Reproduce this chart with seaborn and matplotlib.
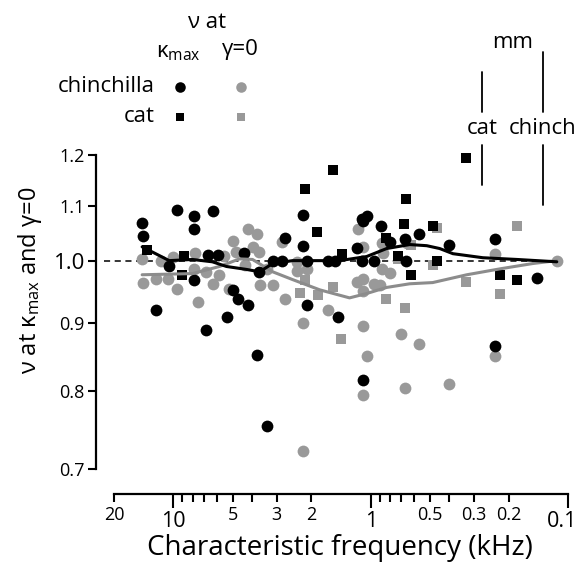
import numpy as np
import pandas as pd
import matplotlib
matplotlib.use("Agg")
import matplotlib.pyplot as plt
import matplotlib.transforms as mtransforms
import seaborn as sns
from matplotlib.ticker import FixedLocator, FixedFormatter, NullLocator

# ---------------- data ----------------
# chinchilla, nu at kappa_max (black circles)
chin_kmax_cf = [14.4, 14.2, 12.3, 9.54, 7.82, 7.82, 6.27, 10.5, 7.82, 6.64, 5.91, 4.96, 4.73, 4.21,
                3.70, 3.11, 2.80, 2.73, 2.21, 2.21, 2.11, 2.11, 6.80, 5.38, 3.75, 3.37, 1.47, 1.09,
                0.235, 1.65, 1.52, 1.18, 1.11, 1.05, 1.10, 1.11, 0.966, 0.890, 0.801, 0.672, 0.664,
                0.571, 0.402, 0.235, 0.144, 4.40]
chin_kmax_v = [1.068, 1.045, 0.919, 1.092, 1.081, 1.056, 1.090, 0.992, 0.969, 1.011, 1.011, 0.952, 0.938, 0.927,
               0.982, 1.001, 1.001, 1.041, 1.083, 1.027, 1.001, 0.928, 0.889, 0.908, 0.852, 0.754, 0.908, 0.816,
               0.864, 1.001, 1.001, 1.023, 1.076, 1.081, 1.072, 1.001, 1.001, 1.063, 1.034, 1.039, 1.001,
               1.048, 1.029, 1.039, 0.972, 1.015]

# cat, nu at kappa_max (black squares)
cat_kmax_cf = [13.6, 8.79, 9.0, 2.16, 1.88, 1.56, 1.40, 0.664, 0.680, 0.839, 0.730, 0.485, 0.462,
               0.627, 0.330, 0.221, 0.181]
cat_kmax_v = [1.020, 1.009, 0.977, 1.131, 1.052, 1.170, 1.013, 1.113, 1.066, 1.041, 1.009, 1.063, 1.001,
              0.977, 1.194, 0.977, 0.969]

# chinchilla, nu at gamma=0 (gray circles)
chin_g0_cf = [14.4, 14.2, 12.3, 11.5, 10.1, 9.54, 10.7, 7.73, 7.82, 7.47, 6.27, 6.80, 5.84, 5.20, 5.51,
              4.96, 4.79, 4.21, 3.79, 3.97, 3.70, 4.36, 3.62, 3.14, 2.80, 2.73, 2.37, 2.37, 2.11, 3.37,
              2.21, 1.65, 2.21, 1.16, 1.10, 0.880, 0.869, 0.880, 0.801, 1.18, 1.10, 0.966, 0.900, 1.09,
              0.657, 0.235, 0.114, 1.09, 1.05, 0.705, 0.571, 0.672, 0.402, 0.235, 1.09]
chin_g0_v = [1.003, 0.964, 0.970, 1.001, 1.008, 0.954, 0.970, 1.015, 0.987, 0.933, 0.962, 0.982, 0.977, 0.954, 1.009,
             1.036, 1.016, 1.056, 1.048, 1.025, 1.016, 0.994, 0.960, 0.960, 1.034, 0.938, 0.999, 0.984, 0.987, 0.986,
             0.900, 0.920, 0.722, 1.056, 1.025, 1.032, 1.015, 0.987, 0.980, 0.965, 0.970, 0.962, 0.960, 0.950,
             1.032, 1.013, 1.001, 0.894, 0.850, 0.882, 0.868, 0.805, 0.810, 0.850, 0.795]

# cat, nu at gamma=0 (gray squares)
cat_g0_cf = [2.16, 1.86, 1.56, 2.27, 0.839, 0.672, 0.627, 0.485, 0.462, 0.730, 0.330, 0.221, 0.181, 1.42]
cat_g0_v = [0.969, 0.944, 0.956, 0.947, 0.938, 0.923, 1.029, 0.994, 1.058, 1.003, 0.965, 0.946, 1.063, 0.875]

# smoothed trends
trend_kmax_cf = [14.4, 12.3, 10.5, 8.0, 6.35, 5.38, 4.26, 3.66, 3.14, 2.49, 1.81, 1.44, 1.05, 0.830,
                 0.634, 0.520, 0.447, 0.383, 0.270, 0.181, 0.114]
trend_kmax_v = [1.025, 1.013, 1.001, 1.003, 0.999, 0.991, 0.986, 0.982, 0.996, 1.001, 1.001, 1.001, 1.008, 1.022,
                1.029, 1.027, 1.022, 1.013, 1.006, 1.003, 0.999]
trend_g0_cf = [14.4, 8.0, 5.84, 4.62, 3.97, 3.14, 2.49, 1.81, 1.28, 1.05, 0.830, 0.634, 0.485, 0.326,
               0.221, 0.151, 0.114]
trend_g0_v = [0.977, 0.979, 0.991, 1.004, 1.003, 0.982, 0.969, 0.952, 0.939, 0.946, 0.956, 0.962, 0.964, 0.977,
              0.987, 0.996, 1.001]

# place-map markers (kHz at the "mm" reference)
mm_cat_cf = 0.273
mm_chin_cf = 0.134

x_major = [10, 1, 0.1]
x_major_labels = ["10", "1", "0.1"]
x_minor = [20, 9, 8, 7, 6, 5, 4, 3, 2, 0.9, 0.8, 0.7, 0.6, 0.5, 0.4, 0.3, 0.2]
x_minor_labels = ["20", "", "", "", "", "5", "", "3", "2", "", "", "", "", "0.5", "", "0.3", "0.2"]
y_ticks = [0.7, 0.8, 0.9, 1.0, 1.1, 1.2]
y_tick_labels = ["0.7", "0.8", "0.9", "1.0", "1.1", "1.2"]

BLACK = "#000000"
GRAY = "#999999"

# ---------------- figure ----------------
sns.set_theme(style="ticks")
plt.rcParams['font.family'] = ['Open Sans', 'DejaVu Sans']
plt.rcParams['mathtext.fontset'] = 'custom'
plt.rcParams['mathtext.rm'] = 'Open Sans'
plt.rcParams['mathtext.it'] = 'Open Sans'
plt.rcParams['text.color'] = BLACK
plt.rcParams['axes.labelcolor'] = BLACK
plt.rcParams['xtick.color'] = BLACK
plt.rcParams['ytick.color'] = BLACK
plt.rcParams['axes.edgecolor'] = BLACK

W, H = 581, 565
fig = plt.figure(figsize=(W / 100, H / 100), dpi=100)
ax = fig.add_axes([114 / W, 1 - 469 / H, 454 / W, 314 / H])

ax.set_xscale("log")
ax.set_yscale("log")

# reference line
ax.hlines(1.0, 22.4, 0.114, colors=BLACK, linestyles=(0, (4, 3)), linewidth=1.1, clip_on=False, zorder=1)

circ_s = 72
sq_s = 42
sns.scatterplot(x=chin_g0_cf, y=chin_g0_v, color=GRAY, marker="o", s=circ_s, linewidth=0, ax=ax,
                clip_on=False, zorder=2)
sns.scatterplot(x=cat_g0_cf, y=cat_g0_v, color=GRAY, marker="s", s=sq_s, linewidth=0, ax=ax,
                clip_on=False, zorder=2)
sns.scatterplot(x=chin_kmax_cf, y=chin_kmax_v, color=BLACK, marker="o", s=circ_s, linewidth=0, ax=ax,
                clip_on=False, zorder=3)
sns.scatterplot(x=cat_kmax_cf, y=cat_kmax_v, color=BLACK, marker="s", s=sq_s, linewidth=0, ax=ax,
                clip_on=False, zorder=3)

sns.lineplot(x=trend_g0_cf, y=trend_g0_v, color="#8c8c8c", linewidth=2.2, ax=ax, sort=False,
             estimator=None, zorder=4)
sns.lineplot(x=trend_kmax_cf, y=trend_kmax_v, color=BLACK, linewidth=2.2, ax=ax, sort=False,
             estimator=None, zorder=5)

ax.set_xlim(20, 0.1)
ax.set_ylim(0.7, 1.2)

# axes styling
for s in ["top", "right"]:
    ax.spines[s].set_visible(False)
ax.spines["left"].set_position(("outward", 13))
ax.spines["bottom"].set_position(("outward", 18))
for s in ["left", "bottom"]:
    ax.spines[s].set_linewidth(1.6)
    ax.spines[s].set_color(BLACK)

ax.xaxis.set_major_locator(FixedLocator(x_major))
ax.xaxis.set_major_formatter(FixedFormatter(x_major_labels))
ax.xaxis.set_minor_locator(FixedLocator(x_minor))
ax.xaxis.set_minor_formatter(FixedFormatter(x_minor_labels))
ax.tick_params(axis="x", which="major", length=10, width=1.5, labelsize=15.5, pad=2,
               color=BLACK, labelcolor=BLACK)
ax.tick_params(axis="x", which="minor", length=6, width=1.5, labelsize=13, pad=3,
               color=BLACK, labelcolor=BLACK)

ax.yaxis.set_major_locator(FixedLocator(y_ticks))
ax.yaxis.set_major_formatter(FixedFormatter(y_tick_labels))
ax.yaxis.set_minor_locator(NullLocator())
ax.tick_params(axis="y", which="major", length=6, width=1.5, labelsize=13, pad=2,
               color=BLACK, labelcolor=BLACK)

ax.set_xlabel("")
ax.set_ylabel("")

fig.canvas.draw()
for lab in ax.get_yticklabels():
    if lab.get_text() == "1.0":
        lab.set_fontsize(16)
for lab in ax.get_xticklabels():
    if lab.get_text() == "0.1":
        lab.set_transform(lab.get_transform() + mtransforms.ScaledTranslation(-6 / 100, 0, fig.dpi_scale_trans))

fig.text(30 / W, 1 - 280 / H, r"ν at κ$_{\mathrm{max}}$ and γ=0", rotation=90, ha="center", va="center",
         fontsize=17, color=BLACK)
fig.text(340 / W, 1 - 548 / H, "Characteristic frequency (kHz)", ha="center", va="center",
         fontsize=20, color=BLACK)

# legend (custom)
def fx(px):
    return px / W

def fy(py):
    return 1 - py / H

LEG_FS = 16
fig.text(fx(207), fy(22), "ν at", ha="center", va="center", fontsize=LEG_FS, color=BLACK)
fig.text(fx(178), fy(53), r"κ$_{\mathrm{max}}$", ha="center", va="center", fontsize=LEG_FS, color=BLACK)
fig.text(fx(240), fy(50), "γ=0", ha="center", va="center", fontsize=LEG_FS, color=BLACK)
fig.text(fx(155), fy(86), "chinchilla", ha="right", va="center", fontsize=LEG_FS, color=BLACK)
fig.text(fx(155), fy(116), "cat", ha="right", va="center", fontsize=LEG_FS, color=BLACK)
leg_ax = fig.add_axes([0, 0, 1, 1], facecolor="none")
leg_ax.set_xlim(0, W)
leg_ax.set_ylim(H, 0)
leg_ax.axis("off")
leg_ax.scatter([180], [87], s=circ_s * 0.8, color=BLACK, marker="o", linewidth=0)
leg_ax.scatter([241], [87], s=circ_s * 0.8, color=GRAY, marker="o", linewidth=0)
leg_ax.scatter([180], [117], s=sq_s * 0.85, color=BLACK, marker="s", linewidth=0)
leg_ax.scatter([241], [117], s=sq_s * 0.85, color=GRAY, marker="s", linewidth=0)

# mm annotation (data x, figure-pixel y)
trans = mtransforms.blended_transform_factory(ax.transData, leg_ax.transData)
ax.plot([mm_cat_cf, mm_cat_cf], [72, 112], transform=trans, color=BLACK, lw=1.3, clip_on=False)
ax.plot([mm_cat_cf, mm_cat_cf], [145, 185], transform=trans, color=BLACK, lw=1.3, clip_on=False)
ax.plot([mm_chin_cf, mm_chin_cf], [52, 112], transform=trans, color=BLACK, lw=1.3, clip_on=False)
ax.plot([mm_chin_cf, mm_chin_cf], [145, 205], transform=trans, color=BLACK, lw=1.3, clip_on=False)
ax.text(0.19, 43, "mm", transform=trans, ha="center", va="center", fontsize=LEG_FS, color=BLACK)
ax.text(mm_cat_cf, 128, "cat", transform=trans, ha="center", va="center", fontsize=LEG_FS, color=BLACK)
ax.text(mm_chin_cf, 128, "chinch", transform=trans, ha="center", va="center", fontsize=LEG_FS, color=BLACK)

fig.savefig("out.png", dpi=100)
